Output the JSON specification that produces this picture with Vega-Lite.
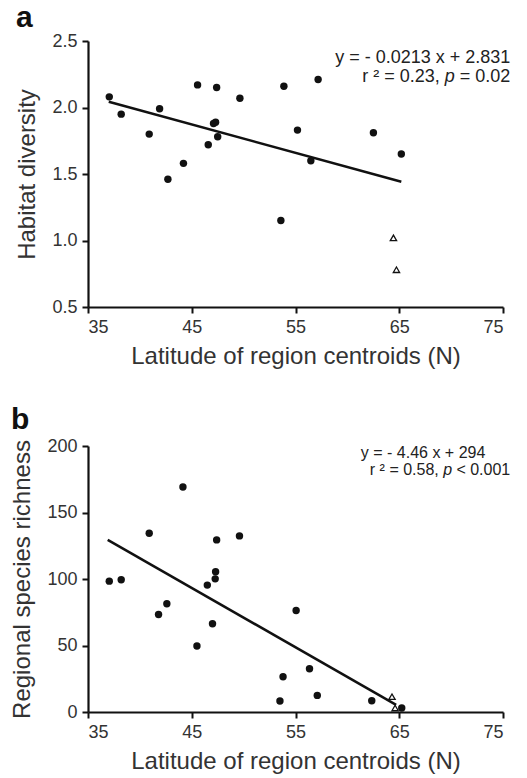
{
  "$schema": "https://vega.github.io/schema/vega-lite/v6.json",
  "padding": {"left": 10, "top": 3, "right": 5, "bottom": 2},
  "spacing": 37,
  "config": {
    "view": {"stroke": null},
    "font": "Liberation Sans",
    "axis": {
      "grid": false,
      "domainColor": "#111",
      "domainWidth": 2.2,
      "tickColor": "#111",
      "tickWidth": 2,
      "tickSize": 6,
      "labelFont": "Liberation Sans",
      "labelFontSize": 18,
      "labelColor": "#333",
      "labelPadding": 5,
      "titleFont": "Liberation Sans",
      "titleFontSize": 24,
      "titleFontWeight": "normal",
      "titleColor": "#333"
    },
    "title": {"font": "Liberation Sans", "fontSize": 30, "fontWeight": "bold", "anchor": "start", "frame": "bounds", "color": "#111"}
  },
  "datasets": {
    "a_pts": [
      {"lat": 37.05, "val": 2.08, "group": "circle"},
      {"lat": 38.2, "val": 1.95, "group": "circle"},
      {"lat": 40.9, "val": 1.80, "group": "circle"},
      {"lat": 41.9, "val": 1.99, "group": "circle"},
      {"lat": 42.7, "val": 1.46, "group": "circle"},
      {"lat": 44.2, "val": 1.58, "group": "circle"},
      {"lat": 45.56, "val": 2.17, "group": "circle"},
      {"lat": 46.59, "val": 1.72, "group": "circle"},
      {"lat": 47.1, "val": 1.88, "group": "circle"},
      {"lat": 47.3, "val": 1.89, "group": "circle"},
      {"lat": 47.4, "val": 2.15, "group": "circle"},
      {"lat": 47.5, "val": 1.78, "group": "circle"},
      {"lat": 49.64, "val": 2.07, "group": "circle"},
      {"lat": 53.59, "val": 1.15, "group": "circle"},
      {"lat": 53.88, "val": 2.16, "group": "circle"},
      {"lat": 55.19, "val": 1.83, "group": "circle"},
      {"lat": 56.48, "val": 1.60, "group": "circle"},
      {"lat": 57.18, "val": 2.21, "group": "circle"},
      {"lat": 62.51, "val": 1.81, "group": "circle"},
      {"lat": 65.2, "val": 1.65, "group": "circle"},
      {"lat": 64.44, "val": 1.02, "group": "triangle"},
      {"lat": 64.73, "val": 0.78, "group": "triangle"}
    ],
    "a_line": [
      {"lat": 37.0, "val": 2.043},
      {"lat": 65.2, "val": 1.442}
    ],
    "a_text": [
      {"lat": 75.7, "val": 2.375, "part": "eq", "label": "y = - 0.0213 x + 2.831"},
      {"lat": 75.7, "val": 2.23, "part": "tail", "label": "= 0.02"},
      {"lat": 75.7, "val": 2.23, "part": "p", "label": "p"},
      {"lat": 75.7, "val": 2.23, "part": "head", "label": "r ² = 0.23,"}
    ],
    "b_pts": [
      {"lat": 37.05, "val": 98.4, "group": "circle"},
      {"lat": 38.2, "val": 99.4, "group": "circle"},
      {"lat": 40.9, "val": 134.4, "group": "circle"},
      {"lat": 41.8, "val": 73.3, "group": "circle"},
      {"lat": 42.6, "val": 81.4, "group": "circle"},
      {"lat": 44.15, "val": 169.2, "group": "circle"},
      {"lat": 45.5, "val": 49.6, "group": "circle"},
      {"lat": 46.5, "val": 95.4, "group": "circle"},
      {"lat": 47.0, "val": 66.3, "group": "circle"},
      {"lat": 47.26, "val": 100.1, "group": "circle"},
      {"lat": 47.3, "val": 105.4, "group": "circle"},
      {"lat": 47.4, "val": 129.4, "group": "circle"},
      {"lat": 49.6, "val": 132.4, "group": "circle"},
      {"lat": 53.5, "val": 8.3, "group": "circle"},
      {"lat": 53.8, "val": 26.5, "group": "circle"},
      {"lat": 55.06, "val": 76.3, "group": "circle"},
      {"lat": 56.35, "val": 32.5, "group": "circle"},
      {"lat": 57.1, "val": 12.5, "group": "circle"},
      {"lat": 62.35, "val": 8.5, "group": "circle"},
      {"lat": 65.24, "val": 3.0, "group": "circle"},
      {"lat": 64.3, "val": 11.5, "group": "triangle"},
      {"lat": 64.6, "val": 3.0, "group": "triangle"}
    ],
    "b_line": [
      {"lat": 36.9, "val": 129.4},
      {"lat": 64.7, "val": 5.4}
    ],
    "b_text": [
      {"lat": 73.3, "val": 195, "part": "eq", "label": "y = - 4.46 x + 294"},
      {"lat": 75.7, "val": 182, "part": "tail", "label": "< 0.001"},
      {"lat": 75.7, "val": 182, "part": "p", "label": "p"},
      {"lat": 75.7, "val": 182, "part": "head", "label": "r ² = 0.58,"}
    ]
  },
  "vconcat": [
    {
      "title": {"text": "a", "offset": -1},
      "width": 415,
      "height": 266,
      "layer": [
        {
          "data": {"name": "a_line"},
          "mark": {"type": "line", "color": "#111", "strokeWidth": 2.5},
          "encoding": {
            "x": {"field": "lat", "type": "quantitative", "scale": {"domain": [35, 75], "nice": false, "zero": false},
                  "axis": {"values": [35, 45, 55, 65, 75], "title": "Latitude of region centroids (N)", "titlePadding": 8}},
            "y": {"field": "val", "type": "quantitative", "scale": {"domain": [0.5, 2.5], "nice": false, "zero": false},
                  "axis": {"values": [0.5, 1.0, 1.5, 2.0, 2.5], "format": ".1f", "title": "Habitat diversity", "titlePadding": 12}}
          }
        },
        {
          "data": {"name": "a_pts"},
          "transform": [{"filter": "datum.group === 'circle'"}],
          "mark": {"type": "point", "shape": "circle", "filled": true, "color": "#111", "size": 55, "opacity": 1},
          "encoding": {
            "x": {"field": "lat", "type": "quantitative"},
            "y": {"field": "val", "type": "quantitative"}
          }
        },
        {
          "data": {"name": "a_pts"},
          "transform": [{"filter": "datum.group === 'triangle'"}],
          "mark": {"type": "point", "shape": "triangle-up", "filled": false, "color": "#111", "size": 40, "strokeWidth": 1.3, "opacity": 1},
          "encoding": {
            "x": {"field": "lat", "type": "quantitative"},
            "y": {"field": "val", "type": "quantitative"}
          }
        },
        {
          "data": {"name": "a_text"},
          "transform": [{"filter": "datum.part === 'eq' || datum.part === 'tail'"}],
          "mark": {"type": "text", "align": "right", "baseline": "middle", "fontSize": 18, "color": "#222"},
          "encoding": {
            "x": {"field": "lat", "type": "quantitative"},
            "y": {"field": "val", "type": "quantitative"},
            "text": {"field": "label"}
          }
        },
        {
          "data": {"name": "a_text"},
          "transform": [{"filter": "datum.part === 'p'"}],
          "mark": {"type": "text", "align": "right", "baseline": "middle", "fontSize": 18, "fontStyle": "italic", "color": "#222", "dx": -55.5},
          "encoding": {
            "x": {"field": "lat", "type": "quantitative"},
            "y": {"field": "val", "type": "quantitative"},
            "text": {"field": "label"}
          }
        },
        {
          "data": {"name": "a_text"},
          "transform": [{"filter": "datum.part === 'head'"}],
          "mark": {"type": "text", "align": "right", "baseline": "middle", "fontSize": 18, "color": "#222", "dx": -70.5},
          "encoding": {
            "x": {"field": "lat", "type": "quantitative"},
            "y": {"field": "val", "type": "quantitative"},
            "text": {"field": "label"}
          }
        }
      ]
    },
    {
      "title": {"text": "b", "offset": 2},
      "width": 415,
      "height": 266,
      "layer": [
        {
          "data": {"name": "b_line"},
          "mark": {"type": "line", "color": "#111", "strokeWidth": 2.5},
          "encoding": {
            "x": {"field": "lat", "type": "quantitative", "scale": {"domain": [35, 75], "nice": false, "zero": false},
                  "axis": {"values": [35, 45, 55, 65, 75], "title": "Latitude of region centroids (N)", "titlePadding": 8}},
            "y": {"field": "val", "type": "quantitative", "scale": {"domain": [0, 200], "nice": false},
                  "axis": {"values": [0, 50, 100, 150, 200], "title": "Regional species richness", "titlePadding": 12}}
          }
        },
        {
          "data": {"name": "b_pts"},
          "transform": [{"filter": "datum.group === 'circle'"}],
          "mark": {"type": "point", "shape": "circle", "filled": true, "color": "#111", "size": 55, "opacity": 1},
          "encoding": {
            "x": {"field": "lat", "type": "quantitative"},
            "y": {"field": "val", "type": "quantitative"}
          }
        },
        {
          "data": {"name": "b_pts"},
          "transform": [{"filter": "datum.group === 'triangle'"}],
          "mark": {"type": "point", "shape": "triangle-up", "filled": false, "color": "#111", "size": 40, "strokeWidth": 1.3, "opacity": 1},
          "encoding": {
            "x": {"field": "lat", "type": "quantitative"},
            "y": {"field": "val", "type": "quantitative"}
          }
        },
        {
          "data": {"name": "b_text"},
          "transform": [{"filter": "datum.part === 'eq' || datum.part === 'tail'"}],
          "mark": {"type": "text", "align": "right", "baseline": "middle", "fontSize": 16, "color": "#222"},
          "encoding": {
            "x": {"field": "lat", "type": "quantitative"},
            "y": {"field": "val", "type": "quantitative"},
            "text": {"field": "label"}
          }
        },
        {
          "data": {"name": "b_text"},
          "transform": [{"filter": "datum.part === 'p'"}],
          "mark": {"type": "text", "align": "right", "baseline": "middle", "fontSize": 16, "fontStyle": "italic", "color": "#222", "dx": -58.2},
          "encoding": {
            "x": {"field": "lat", "type": "quantitative"},
            "y": {"field": "val", "type": "quantitative"},
            "text": {"field": "label"}
          }
        },
        {
          "data": {"name": "b_text"},
          "transform": [{"filter": "datum.part === 'head'"}],
          "mark": {"type": "text", "align": "right", "baseline": "middle", "fontSize": 16, "color": "#222", "dx": -71.5},
          "encoding": {
            "x": {"field": "lat", "type": "quantitative"},
            "y": {"field": "val", "type": "quantitative"},
            "text": {"field": "label"}
          }
        }
      ]
    }
  ]
}
